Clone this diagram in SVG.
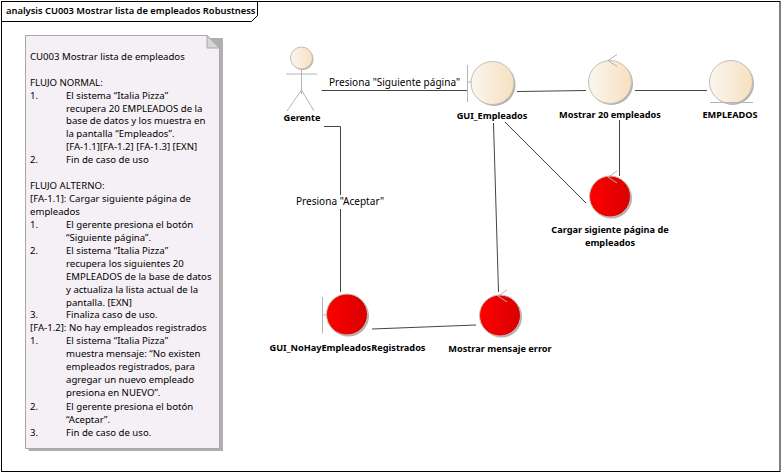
<svg xmlns="http://www.w3.org/2000/svg" width="781" height="473" viewBox="0 0 781 473">
<defs>
<linearGradient id="cream" x1="0" x2="1" y1="0" y2="0"><stop offset="0" stop-color="#fbf6ee"/><stop offset="1" stop-color="#f6e0c0"/></linearGradient>
<linearGradient id="red" x1="0" x2="1" y1="0" y2="0"><stop offset="0" stop-color="#ff0000"/><stop offset="1" stop-color="#d80000"/></linearGradient>
</defs>
<style>
text{font-family:"Noto Sans","Open Sans","DejaVu Sans",sans-serif;font-size:9.6px;fill:#000}
.b{font-weight:bold;text-anchor:middle;font-size:9.2px}
.l{font-size:10.05px}
.c{fill:none;stroke:#444;stroke-width:1}
.cr{fill:url(#cream);stroke:#c4c0b8;stroke-width:1}
.rd{fill:url(#red);stroke:#c4c0b8;stroke-width:1}
.sh{fill:#b0b0b0}
.g{stroke:#b4b4b4;stroke-width:1;fill:none}
</style>
<rect width="781" height="473" fill="#fff"/>
<g id="frame">
<rect x="1.5" y="1.5" width="778.500" height="470" fill="none" stroke="#000"/>
<path d="M1.5 21.500H251.500L257.500 15.500V1.500" fill="none" stroke="#000"/>
<text x="6" y="14" style="font-size:9.35px;font-weight:600">analysis CU003 Mostrar lista de empleados Robustness</text>
</g>
<g id="connectors">
<path class="c" d="M321.500 90.500H468"/>
<path class="c" d="M324 126.500H340.500V195M340.500 209V292"/>
<path class="c" d="M517 91.500L586 90.500"/>
<path class="c" d="M635 90.500H707"/>
<path class="c" d="M619.500 120V176"/>
<path class="c" d="M505 122L586 203"/>
<path class="c" d="M493.500 123L498.500 292"/>
<path class="c" d="M372 329L476 325"/>
</g>
<text class="l" x="329" y="86">Presiona "Siguiente página"</text>
<text class="l" x="296" y="205">Presiona "Aceptar"</text>
<g id="note">
<path class="sh" d="M28.500 38H223V451H28.500Z"/>
<path d="M25.500 35.500H207L219.500 48V448.500H25.500Z" fill="#f5f0f5" stroke="#a8a8a8"/>
<path d="M207 35.500V48H219.500Z" fill="#d8d4d8" stroke="#a8a8a8"/>
<text x="30" y="59.500">CU003 Mostrar lista de empleados</text>
<text x="30" y="85.500">FLUJO NORMAL:</text>
<text x="30" y="98.500">1.</text><text x="66" y="98.500">El sistema “Italia Pizza”</text>
<text x="66" y="111.500">recupera 20 EMPLEADOS de la</text>
<text x="66" y="124">base de datos y los muestra en</text>
<text x="66" y="137">la pantalla “Empleados”.</text>
<text x="66" y="150">[FA-1.1][FA-1.2] [FA-1.3] [EXN]</text>
<text x="30" y="163">2.</text><text x="66" y="163">Fin de caso de uso</text>
<text x="30" y="189">FLUJO ALTERNO:</text>
<text x="30" y="202">[FA-1.1]: Cargar siguiente página de</text>
<text x="30" y="215">empleados</text>
<text x="30" y="228">1.</text><text x="66" y="228">El gerente presiona el botón</text>
<text x="66" y="241">“Siguiente página”.</text>
<text x="30" y="254">2.</text><text x="66" y="254">El sistema “Italia Pizza”</text>
<text x="66" y="267">recupera los siguientes 20</text>
<text x="66" y="279.500">EMPLEADOS de la base de datos</text>
<text x="66" y="292.500">y actualiza la lista actual de la</text>
<text x="66" y="305.500">pantalla. [EXN]</text>
<text x="30" y="318">3.</text><text x="66" y="318">Finaliza caso de uso.</text>
<text x="30" y="331">[FA-1.2]: No hay empleados registrados</text>
<text x="30" y="344">1.</text><text x="66" y="344">El sistema “Italia Pizza”</text>
<text x="66" y="357">muestra mensaje: “No existen</text>
<text x="66" y="370">empleados registrados, para</text>
<text x="66" y="383">agregar un nuevo empleado</text>
<text x="66" y="396">presiona en NUEVO”.</text>
<text x="30" y="410">2.</text><text x="66" y="410">El gerente presiona el botón</text>
<text x="66" y="423">“Aceptar”.</text>
<text x="30" y="436">3.</text><text x="66" y="436">Fin de caso de uso.</text>
</g>
<g id="gerente">
<path class="g" d="M301.500 64V94M286 74H317M301.500 90L287 111M301.500 90L314 111"/>
<circle cx="302.500" cy="59" r="11" class="sh"/>
<circle cx="301.500" cy="58" r="11" class="cr"/>
<text class="b" x="302" y="121">Gerente</text>
</g>
<g id="gui-empleados">
<path class="g" d="M467.500 65V102M467.500 82H471"/>
<circle cx="494" cy="84.500" r="21.500" class="sh"/>
<circle cx="492.500" cy="83" r="21.500" class="cr"/>
<text class="b" x="492" y="119">GUI_Empleados</text>
</g>
<g id="mostrar-20">
<circle cx="611.500" cy="83.500" r="21.500" class="sh"/>
<circle cx="610" cy="82" r="21.500" class="cr"/>
<path class="g" d="M617 54.500L608 60.500L617 66.500"/>
<text class="b" x="610" y="117.500">Mostrar 20 empleados</text>
</g>
<g id="empleados">
<circle cx="732.500" cy="83.500" r="21.500" class="sh"/>
<circle cx="731" cy="82" r="21.500" class="cr"/>
<path class="g" d="M710 102.500H753"/>
<text class="b" x="730" y="117.500">EMPLEADOS</text>
</g>
<g id="cargar">
<circle cx="611.500" cy="198" r="20.500" class="sh"/>
<circle cx="610" cy="196.500" r="20.500" class="rd"/>
<path class="g" d="M617 171L608 177L617 183"/>
<text class="b" x="610" y="233">Cargar sigiente página de</text>
<text class="b" x="610" y="246">empleados</text>
</g>
<g id="gui-nohay">
<path class="g" d="M322.500 297V333.500M322.500 315H326"/>
<circle cx="348.500" cy="316" r="20.500" class="sh"/>
<circle cx="347" cy="314.500" r="20.500" class="rd"/>
<text class="b" x="347.500" y="351">GUI_NoHayEmpleadosRegistrados</text>
</g>
<g id="mostrar-error">
<circle cx="501.500" cy="317" r="20.500" class="sh"/>
<circle cx="500" cy="315.500" r="20.500" class="rd"/>
<path class="g" d="M507 290L498 296L507 302"/>
<text class="b" x="500" y="352">Mostrar mensaje error</text>
</g>
</svg>
